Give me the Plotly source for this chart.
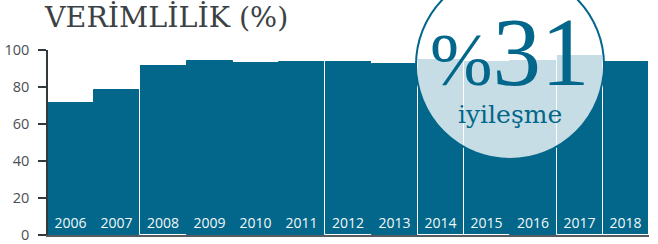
import plotly.graph_objects as go

# ---- data ----
years = ["2006", "2007", "2008", "2009", "2010", "2011", "2012",
         "2013", "2014", "2015", "2016", "2017", "2018"]
efficiency = [71.5, 78.5, 92.0, 94.0, 93.0, 93.5, 94.0,
              92.5, 95.0, 94.0, 94.0, 97.5, 94.0]
y_ticks = [0, 20, 40, 60, 80, 100]
title_text = "VERİMLİLİK (%)"
badge_value = "31"
badge_label = "iyileşme"

# ---- style ----
BAR = "#02678a"
AXIS = "#333a3d"
# bars whose left edge shows a thin white separator in the original
separated = {"2008", "2012", "2014", "2015", "2017", "2018"}
line_colors = ["white" if y in separated else BAR for y in years]

fig = go.Figure()
fig.add_trace(go.Bar(
    x=years, y=efficiency,
    marker=dict(color=BAR, line=dict(color=line_colors, width=1)),
    text=years, textposition="inside", insidetextanchor="start",
    textangle=0, constraintext="none",
    textfont=dict(family="Open Sans", size=14, color="#f2f7f9"),
    hoverinfo="skip",
))

L, R, T, B = 48, 9, 50, 9
W, H = 658, 244
pw, ph = W - L - R, H - T - B
cx, cy, rad = 510, 65, 94  # badge circle (pixels)
ax = (cx - L) / pw
ay = (H - B - cy) / ph

fig.add_shape(
    type="circle", xref="paper", yref="paper",
    xsizemode="pixel", ysizemode="pixel",
    xanchor=ax, yanchor=ay,
    x0=-rad, x1=rad, y0=-rad, y1=rad,
    fillcolor="rgba(255,255,255,0.78)",
    line=dict(color=BAR, width=2), layer="above",
)

fig.add_annotation(
    xref="paper", yref="paper", x=ax, y=ay, xanchor="center", yanchor="middle",
    xshift=-1, yshift=12,
    text="<span style='font-size:75px'>%</span>" + badge_value,
    showarrow=False,
    font=dict(family="Liberation Serif", size=97, color=BAR),
)
fig.add_annotation(
    xref="paper", yref="paper", x=ax, y=ay, xanchor="center", yanchor="middle",
    yshift=-50,
    text=badge_label, showarrow=False,
    font=dict(family="DejaVu Serif", size=25, color=BAR),
)

fig.update_layout(
    width=W, height=H,
    margin=dict(l=L, r=R, t=T, b=B),
    paper_bgcolor="white", plot_bgcolor="white",
    bargap=0, showlegend=False,
    title=dict(text=title_text, x=45 / W, xanchor="left", y=1 - 17 / H,
               yanchor="middle",
               font=dict(family="DejaVu Serif", size=28.5, color="#3b4144")),
    xaxis=dict(showline=True, linecolor="#555b5e", linewidth=1.5,
               showticklabels=False, ticks="", showgrid=False, zeroline=False,
               fixedrange=True, automargin=False),
    yaxis=dict(range=[0, 100], tickvals=y_ticks, ticks="outside", ticklen=8,
               tickcolor=AXIS, tickwidth=1.5, showline=True, linecolor=AXIS,
               linewidth=1.5, showgrid=False, zeroline=False,
               ticklabelstandoff=6, automargin=False,
               ticklabeloverflow="allow",
               tickfont=dict(family="Open Sans", size=14.5, color="#4a4f52"),
               fixedrange=True),
)

fig.write_html("out.html",
               config={"displayModeBar": False},
               post_script="document.body.style.margin='0';"
                           "document.body.style.overflow='hidden';")
